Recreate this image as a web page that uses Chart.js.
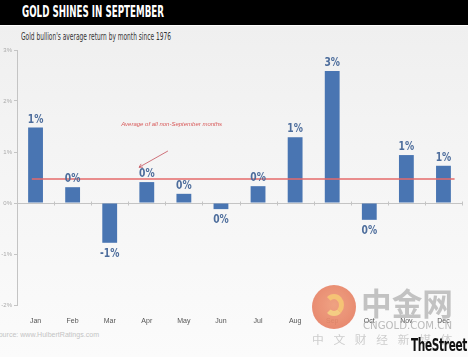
<!DOCTYPE html>
<html>
<head>
<meta charset="utf-8">
<script src="https://cdn.jsdelivr.net/npm/chart.js@4/dist/chart.umd.min.js"></script>
<style>
  html,body{margin:0;padding:0;}
  body{width:468px;height:357px;position:relative;overflow:hidden;
       background:linear-gradient(#eeeeee 0px,#f3f3f3 120px,#fbfbfb 357px);
       font-family:"DejaVu Sans Condensed","Roboto",sans-serif;}
  .fit{position:absolute;white-space:nowrap;transform-origin:left center;}
  #hdr{position:absolute;left:0;top:0;width:468px;height:25px;background:#000;border-bottom:1px solid #fff;}
  #title{left:22px;top:3px;color:#fff;font-weight:bold;font-size:15px;line-height:18px;}
  #sub{left:21px;top:30px;color:#333;font-size:10px;line-height:13px;}
  #src{left:-6px;top:330px;color:#c4c4c4;font-family:"Liberation Sans","Roboto",sans-serif;font-size:8px;line-height:10px;}
  canvas{position:absolute;left:0;top:0;}
  #logo{position:absolute;left:312px;top:285px;width:44px;height:44px;border-radius:50%;
        background:radial-gradient(circle at 50% 45%,#ee9a78 0%,#e4785e 100%);opacity:0.92;}
  #logo:after{content:"";position:absolute;left:12px;top:9px;width:20px;height:22px;border-radius:50%;
        border:5px solid #f7c36a;border-left-color:transparent;border-bottom-color:#f5d07a;box-sizing:border-box;opacity:0.9;}
  #wm1{left:361px;top:284px;font-family:"Noto Sans CJK SC",sans-serif;font-weight:bold;font-size:31px;
       color:rgba(150,150,150,0.55);line-height:36px;}
  #wm2{left:363px;top:320px;font-family:"DejaVu Sans",sans-serif;font-size:10px;color:rgba(160,160,160,0.7);line-height:12px;}
  #wm3{left:312px;top:332px;font-family:"Noto Sans CJK SC",sans-serif;font-size:11px;color:rgba(185,185,185,0.7);
       letter-spacing:9px;line-height:14px;}
  #ts{left:411px;top:335px;font-family:"DejaVu Sans Condensed",sans-serif;font-weight:bold;
      font-size:17px;color:#111;line-height:20px;letter-spacing:-0.5px;}
</style>
</head>
<body>
<div id="hdr"></div>
<div id="title" class="fit" data-w="142">GOLD SHINES IN SEPTEMBER</div>
<div id="sub" class="fit" data-w="150">Gold bullion's average return by month since 1976</div>
<div id="src" class="fit" data-w="105">Source: www.HulbertRatings.com</div>
<canvas id="c" width="468" height="357"></canvas>
<div id="logo"></div>
<div id="wm1" class="fit" data-w="92">中金网</div>
<div id="wm2" class="fit" data-w="89">CNGOLD.COM.CN</div>
<div id="wm3" class="fit" data-w="150">中文财经新媒体</div>
<div id="ts" class="fit" data-w="56">TheStreet</div>
<script>
const months = ['Jan','Feb','Mar','Apr','May','Jun','Jul','Aug','Sep','Oct','Nov','Dec'];
const avgReturn = [1.48, 0.31, -0.78, 0.41, 0.18, -0.12, 0.33, 1.29, 2.59, -0.33, 0.94, 0.73];
const valueLabels = ['1%','0%','-1%','0%','0%','0%','0%','1%','3%','0%','1%','1%'];
const yTicks = [-2, -1, 0, 1, 2, 3];
const nonSeptAverage = 0.47;
const annotationText = 'Average of all non-September months';
// annotation anchor in data units: [category index, value]
const annotationLabelAt = [3.67, 1.55];
const annotationArrowFrom = [3.57, 1.02];
const annotationArrowTo = [2.79, 0.70];

document.querySelectorAll('.fit').forEach(el => {
  const w = el.getBoundingClientRect().width;
  const target = parseFloat(el.dataset.w);
  el.style.transform = 'scaleX(' + (target / w) + ')';
});

const barColor = '#4975b2';
const labelColor = '#4d6d9c';
const redColor = '#e46a6a';
const narrow = '"DejaVu Sans Condensed",sans-serif';

const overlay = {
  id: 'overlay',
  beforeDatasetsDraw(chart) {
    const {ctx, chartArea, scales:{x, y}} = chart;
    const y0 = y.getPixelForValue(0);
    ctx.save();
    ctx.strokeStyle = '#c4c4c4';
    ctx.lineWidth = 1;
    ctx.beginPath();
    ctx.moveTo(chartArea.left, Math.round(y0) + 0.5);
    ctx.lineTo(chartArea.right, Math.round(y0) + 0.5);
    ctx.stroke();
    for (let i = 0; i < months.length; i++) {
      const bx = Math.round(x.getPixelForValue(i + 0.5)) + 0.5;
      ctx.beginPath();
      ctx.moveTo(bx, y0 - 1.5);
      ctx.lineTo(bx, y0 + 2.5);
      ctx.stroke();
    }
    ctx.restore();
  },
  afterDatasetsDraw(chart) {
    const {ctx, scales:{x, y}} = chart;
    const meta = chart.getDatasetMeta(0);
    ctx.save();
    // average line
    const ya = Math.round(y.getPixelForValue(nonSeptAverage));
    ctx.strokeStyle = redColor;
    ctx.lineWidth = 1.5;
    ctx.beginPath();
    ctx.moveTo(x.getPixelForValue(-0.1), ya);
    ctx.lineTo(x.getPixelForValue(11.3), ya);
    ctx.stroke();
    // annotation text
    ctx.fillStyle = '#d85a5a';
    ctx.font = 'italic 6px "Liberation Sans","DejaVu Sans",sans-serif';
    ctx.textAlign = 'center';
    ctx.textBaseline = 'middle';
    ctx.fillText(annotationText, x.getPixelForValue(annotationLabelAt[0]), y.getPixelForValue(annotationLabelAt[1]));
    // arrow
    const ax1 = x.getPixelForValue(annotationArrowFrom[0]), ay1 = y.getPixelForValue(annotationArrowFrom[1]);
    const ax2 = x.getPixelForValue(annotationArrowTo[0]), ay2 = y.getPixelForValue(annotationArrowTo[1]);
    ctx.strokeStyle = 'rgba(200,90,100,0.85)';
    ctx.lineWidth = 1;
    ctx.beginPath(); ctx.moveTo(ax1, ay1); ctx.lineTo(ax2, ay2); ctx.stroke();
    const ang = Math.atan2(ay2 - ay1, ax2 - ax1);
    ctx.beginPath();
    ctx.moveTo(ax2, ay2);
    ctx.lineTo(ax2 - 4*Math.cos(ang - 0.5), ay2 - 4*Math.sin(ang - 0.5));
    ctx.moveTo(ax2, ay2);
    ctx.lineTo(ax2 - 4*Math.cos(ang + 0.5), ay2 - 4*Math.sin(ang + 0.5));
    ctx.stroke();
    // value labels (condensed)
    ctx.fillStyle = labelColor;
    ctx.font = 'bold 12px ' + narrow;
    ctx.textAlign = 'center';
    meta.data.forEach((el, i) => {
      const v = avgReturn[i];
      ctx.save();
      if (v >= 0) {
        ctx.translate(el.x, el.y - 2);
        ctx.scale(0.85, 1);
        ctx.textBaseline = 'bottom';
        ctx.fillText(valueLabels[i], 0, 0);
      } else {
        ctx.translate(el.x, el.y + 5);
        ctx.scale(0.85, 1);
        ctx.textBaseline = 'top';
        ctx.fillText(valueLabels[i], 0, 0);
      }
      ctx.restore();
    });
    ctx.restore();
  }
};

new Chart(document.getElementById('c'), {
  type: 'bar',
  data: {
    labels: months,
    datasets: [{
      data: avgReturn,
      backgroundColor: barColor,
      borderWidth: 0,
      barPercentage: 0.4,
      categoryPercentage: 1.0
    }]
  },
  options: {
    responsive: false,
    animation: false,
    events: [],
    layout: { padding: { top: 50, right: 6, bottom: 32, left: 0 } },
    plugins: { legend: { display: false }, tooltip: { enabled: false }, title: { display: false } },
    scales: {
      x: {
        grid: { display: false },
        border: { display: false },
        ticks: { color: '#555', font: { size: 7, family: '"Liberation Sans","DejaVu Sans",sans-serif' }, padding: 4, maxRotation: 0 },
        afterFit(s) { s.height = 20; }
      },
      y: {
        min: -2, max: 3,
        afterBuildTicks(s) { s.ticks = yTicks.map(v => ({ value: v })); },
        ticks: { color: '#aaa', font: { size: 6, family: '"Liberation Sans","DejaVu Sans",sans-serif' }, padding: 2,
                 callback: v => v + '%' },
        grid: { color: 'transparent', tickColor: '#c4c4c4', tickLength: 3, drawOnChartArea: false },
        border: { color: '#c4c4c4', width: 1 },
        afterFit(s) { s.width = 17; }
      }
    }
  },
  plugins: [overlay]
});
</script>
</body>
</html>
